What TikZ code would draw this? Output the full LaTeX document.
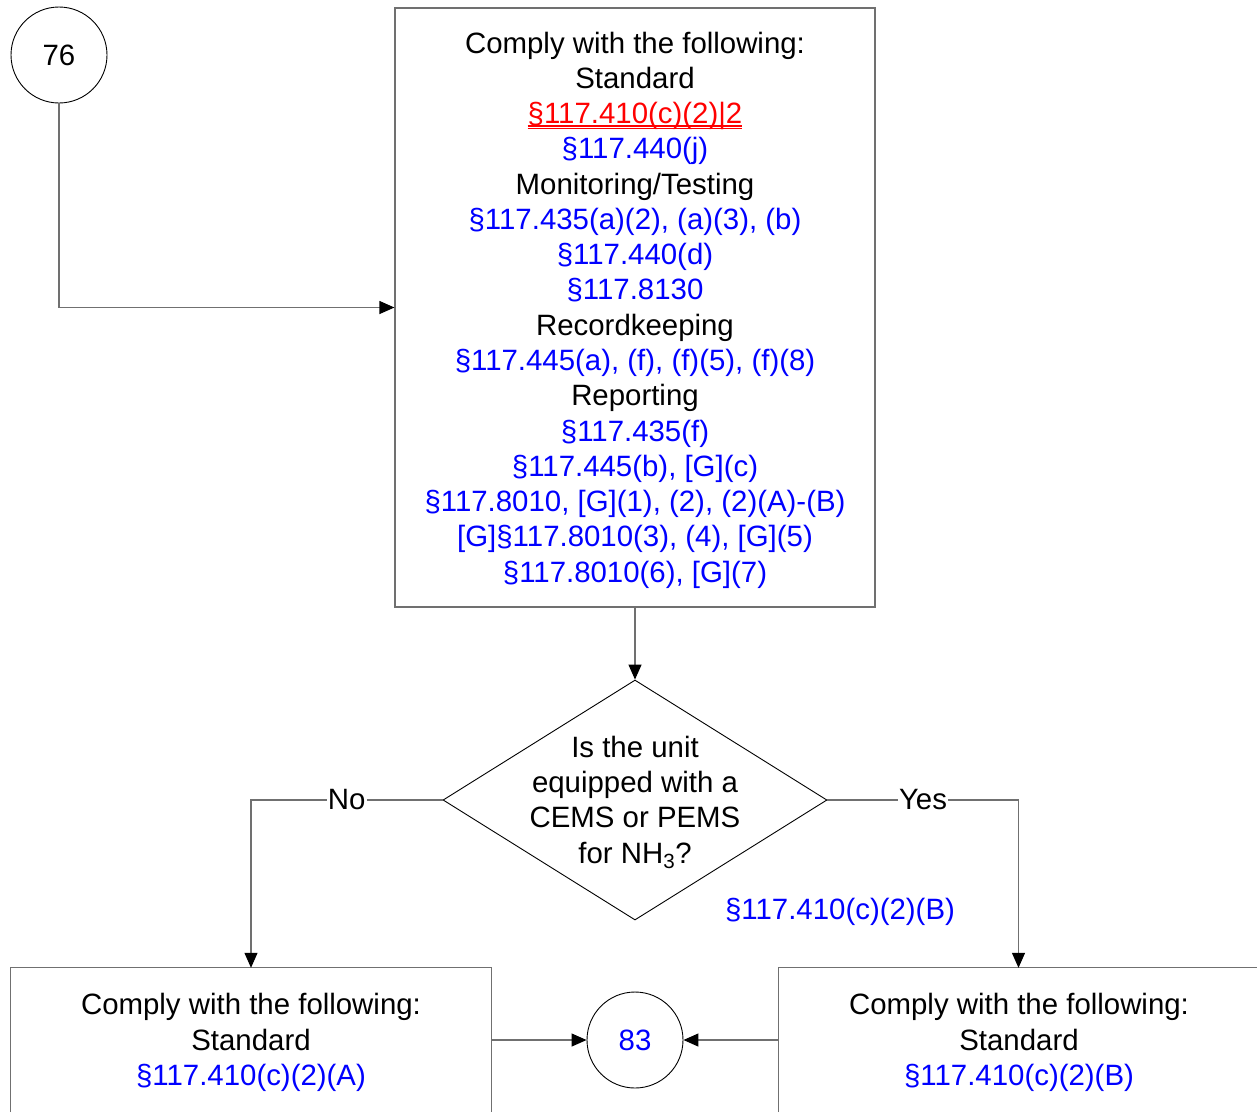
\documentclass[tikz,border=0pt]{standalone}
\usepackage{fontspec}
\setmainfont{Liberation Sans}
\usetikzlibrary{arrows.meta,shapes.geometric}
\definecolor{lg}{HTML}{707070}
\definecolor{tb}{HTML}{0000FF}
\definecolor{tr}{HTML}{FF0000}
\newcommand{\dblul}[1]{\setbox0\hbox{#1}\rlap{\rule[-3pt]{\wd0}{1.4pt}}\rlap{\rule[-5.6pt]{\wd0}{1.4pt}}\box0}
\begin{document}
\begin{tikzpicture}[x=1pt,y=-1pt,
  every node/.style={font=\fontsize{29.4}{35.27}\selectfont, inner sep=0pt},
  box/.style={draw=lg, line width=1.2pt},
  circ/.style={circle, draw=black, line width=0.9pt, minimum size=96pt},
  conn/.style={draw=lg, line width=1.2pt, -{Triangle[length=15pt,width=13pt,color=black,fill=black]}},
  lab/.style={fill=white, inner sep=1pt},
  ref/.style={text=tb}]
\useasboundingbox (0,0) rectangle (1257,1112);
\fill[white] (0,0) rectangle (1257,1112);
\node[circ] (c76) at (59,55) {76};
\node[box, minimum width=480pt, minimum height=599pt] (main) at (635,307.5) {};
\node[align=center] (maint) at (635,310) {Comply with the following:\\
Standard\\
\textcolor{tr}{\dblul{§117.410(c)(2)|2}}\\
\textcolor{tb}{§117.440(j)}\\
Monitoring/Testing\\
\textcolor{tb}{§117.435(a)(2), (a)(3), (b)}\\
\textcolor{tb}{§117.440(d)}\\
\textcolor{tb}{§117.8130}\\
Recordkeeping\\
\textcolor{tb}{§117.445(a), (f), (f)(5), (f)(8)}\\
Reporting\\
\textcolor{tb}{§117.435(f)}\\
\textcolor{tb}{§117.445(b), [G](c)}\\
\textcolor{tb}{§117.8010, [G](1), (2), (2)(A)-(B)}\\
\textcolor{tb}{[G]§117.8010(3), (4), [G](5)}\\
\textcolor{tb}{§117.8010(6), [G](7)}};
\node[diamond, draw=black, line width=0.9pt, minimum width=384pt, minimum height=240pt] (q) at (635,800) {};
\node[align=center] (qt) at (635,802.5) {Is the unit\\equipped with a\\CEMS or PEMS\\for NH\textsubscript{3}?};
\node[ref] (qref) at (840,912) {§117.410(c)(2)(B)};
\node[minimum width=480pt, minimum height=144pt] (bl) at (251,1040) {};
\node[minimum width=479pt, minimum height=144pt] (br) at (1018.5,1040) {};
\node[align=center] (blt) at (251,1042.5) {Comply with the following:\\Standard\\\textcolor{tb}{§117.410(c)(2)(A)}};
\node[align=center] (brt) at (1019,1042.5) {Comply with the following:\\Standard\\\textcolor{tb}{§117.410(c)(2)(B)}};
\draw[box] (bl.south west) |- (bl.north east) -- (bl.south east);
\draw[box] (br.south west) |- (br.north east) -- (br.south east);
\node[circ, text=tb] (c83) at (635,1040) {83};
\draw[conn] (c76.south) |- (main.west);
\draw[conn] (main.south) -- (q.north);
\draw[conn] (q.west) -| node[pos=0.25, lab] {No} (bl.north);
\draw[conn] (q.east) -| node[pos=0.25, lab] {Yes} (br.north);
\draw[conn] (bl.east) -- (c83.west);
\draw[conn] (br.west) -- (c83.east);
\end{tikzpicture}
\end{document}
